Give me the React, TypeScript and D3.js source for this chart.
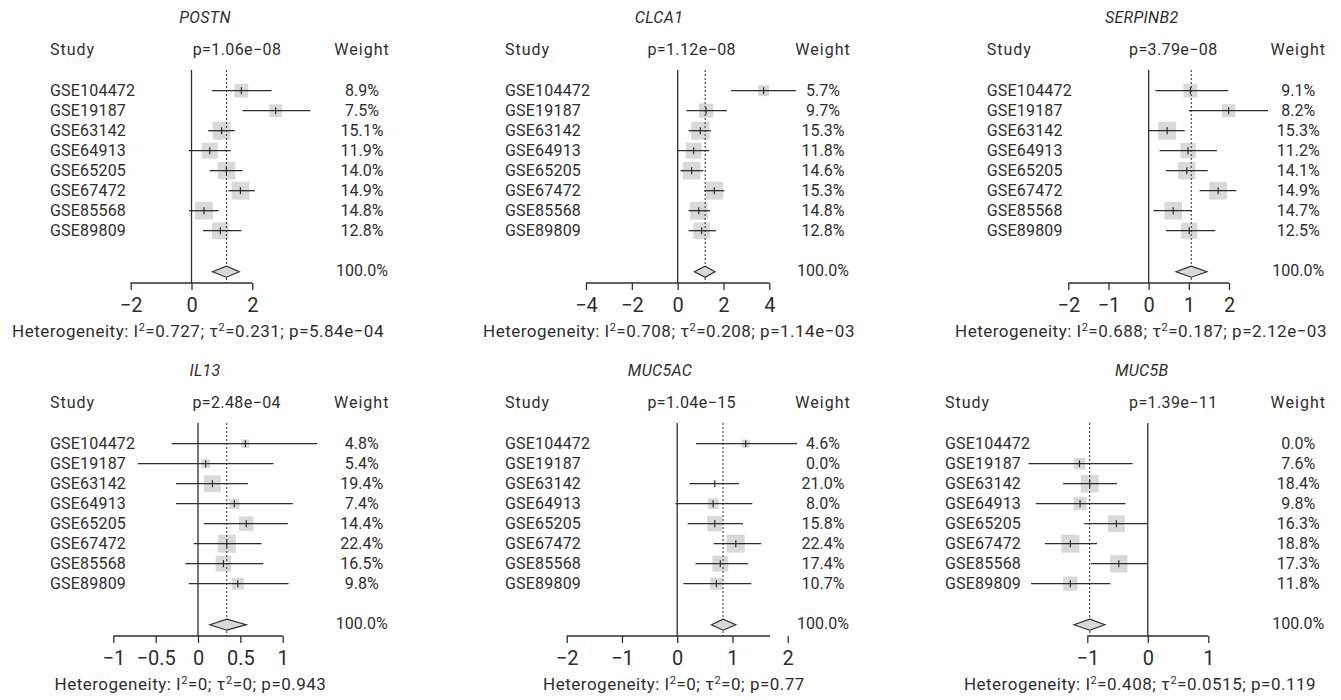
import React, { useRef, useEffect } from 'react';
import * as d3 from 'd3';

const studies = ['GSE104472', 'GSE19187', 'GSE63142', 'GSE64913', 'GSE65205', 'GSE67472', 'GSE85568', 'GSE89809'];
const genes = ['POSTN', 'CLCA1', 'SERPINB2', 'IL13', 'MUC5AC', 'MUC5B'];

// [estimate, lower, upper] for each study, null when the study has no estimate
const postnCI = [[1.64, 0.67, 2.63], [2.77, 1.68, 3.91], [0.99, 0.55, 1.42], [0.60, -0.09, 1.29], [1.15, 0.60, 1.68], [1.61, 1.21, 2.08], [0.41, -0.08, 0.89], [0.95, 0.38, 1.64]];
const clca1CI = [[3.75, 2.33, 5.16], [1.24, 0.39, 2.15], [0.99, 0.48, 1.45], [0.70, 0.0, 1.38], [0.61, 0.12, 1.12], [1.60, 1.16, 2.04], [0.92, 0.48, 1.41], [1.05, 0.48, 1.67]];
const serpinb2CI = [[1.04, 0.17, 1.98], [1.99, 1.0, 2.97], [0.46, 0.0, 0.90], [0.98, 0.27, 1.70], [0.95, 0.43, 1.47], [1.73, 1.27, 2.18], [0.61, 0.12, 1.08], [1.01, 0.43, 1.66]];
const il13CI = [[0.56, -0.31, 1.41], [0.09, -0.71, 0.89], [0.17, -0.26, 0.59], [0.43, -0.26, 1.12], [0.57, 0.07, 1.06], [0.34, -0.05, 0.75], [0.30, -0.15, 0.77], [0.47, -0.11, 1.07]];
const muc5acCI = [[1.24, 0.34, 2.17], null, [0.68, 0.22, 1.12], [0.65, -0.03, 1.36], [0.68, 0.19, 1.19], [1.06, 0.66, 1.52], [0.78, 0.33, 1.28], [0.71, 0.11, 1.34]];
const muc5bCI = [null, [-1.13, -1.97, -0.25], [-0.96, -1.40, -0.51], [-1.12, -1.85, -0.37], [-0.52, -1.05, 0.0], [-1.28, -1.70, -0.84], [-0.48, -0.94, 0.0], [-1.28, -1.93, -0.62]];

const postnWeight = [8.9, 7.5, 15.1, 11.9, 14.0, 14.9, 14.8, 12.8];
const clca1Weight = [5.7, 9.7, 15.3, 11.8, 14.6, 15.3, 14.8, 12.8];
const serpinb2Weight = [9.1, 8.2, 15.3, 11.2, 14.1, 14.9, 14.7, 12.5];
const il13Weight = [4.8, 5.4, 19.4, 7.4, 14.4, 22.4, 16.5, 9.8];
const muc5acWeight = [4.6, 0.0, 21.0, 8.0, 15.8, 22.4, 17.4, 10.7];
const muc5bWeight = [0.0, 7.6, 18.4, 9.8, 16.3, 18.8, 17.3, 11.8];

// random effects summary [estimate, lower, upper]
const summaryCI = [[1.15, 0.69, 1.57], [1.2, 0.73, 1.63], [1.06, 0.68, 1.45], [0.34, 0.14, 0.57], [0.83, 0.62, 1.06], [-0.96, -1.22, -0.71]];
const pValues = ['1.06e\u221208', '1.12e\u221208', '3.79e\u221208', '2.48e\u221204', '1.04e\u221215', '1.39e\u221211'];
const hetI2 = ['0.727', '0.708', '0.688', '0', '0', '0.408'];
const hetTau2 = ['0.231', '0.208', '0.187', '0', '0', '0.0515'];
const hetP = ['5.84e\u221204', '1.14e\u221203', '2.12e\u221203', '0.943', '0.77', '0.119'];

const xDomains = [[-2, 2], [-4, 4], [-2, 2], [-1, 1], [-2, 2], [-1, 1]];
const xTicks = [[-2, 0, 2], [-4, -2, 0, 2, 4], [-2, -1, 0, 1, 2], [-1, -0.5, 0, 0.5, 1], [-2, -1, 0, 1, 2], [-1, 0, 1]];
const axisExtent = [[-2, 2], [-4, 4], [-2, 2], [-1, 1], [-2, 1.68], [-1, 1]];

const studyCI = [postnCI, clca1CI, serpinb2CI, il13CI, muc5acCI, muc5bCI];
const studyWeight = [postnWeight, clca1Weight, serpinb2Weight, il13Weight, muc5acWeight, muc5bWeight];
const hiddenBox = { MUC5AC: ['GSE63142'] };

// panel placement in pixels
const panels = [
  { top: 0, studyX: 50, range: [130.7, 252.3], pX: 237, weightX: 362, titleX: 205, hetX: 198 },
  { top: 0, studyX: 505, range: [586, 769.3], pX: 691.7, weightX: 823, titleX: 659, hetX: 669 },
  { top: 0, studyX: 986.7, range: [1068.3, 1229], pX: 1173.3, weightX: 1298.3, titleX: 1141.7, hetX: 1141 },
  { top: 353, studyX: 50, range: [113.3, 282.7], pX: 236.7, weightX: 361.7, titleX: 205, hetX: 190.5 },
  { top: 353, studyX: 505, range: [566.7, 787.7], pX: 691.7, weightX: 823, titleX: 660, hetX: 674 },
  { top: 353, studyX: 945, range: [1087.3, 1208.3], pX: 1173.3, weightX: 1298.3, titleX: 1141.7, hetX: 1140 },
];

const FONT = 'Roboto, "DejaVu Sans", sans-serif';
const INK = '#2e2e2e';
const BOX = '#d9d9d9';

const ForestGrid = () => {
  const svgRef = useRef(null);

  useEffect(() => {
    if (!svgRef.current) return;
    const svg = d3.select(svgRef.current);
    svg.selectAll('*').remove();

    const titleY = 17.8;
    const headerY = 49.5;
    const lineTop = 70;
    const row0 = 90.7;
    const rowStep = 20;
    const diamondY = 271.7;
    const totalY = 270;
    const axisY = 283;
    const tickLabelY = 305;
    const hetY = 331;

    genes.forEach((gene, gi) => {
      const p = panels[gi];
      const g = svg.append('g').attr('transform', `translate(0,${p.top})`);
      const x = d3.scaleLinear().domain(xDomains[gi]).range(p.range);
      const weights = studyWeight[gi];
      const boxSize = d3.scaleSqrt().domain([0, d3.max(weights)]).range([0, 18]);
      const rowY = (i) => row0 + i * rowStep;
      const [sEst, sLo, sHi] = summaryCI[gi];

      const text = (tx, ty, str, anchor = 'start', size = 16, spacing = 0) =>
        g.append('text')
          .attr('x', tx).attr('y', ty).attr('dy', '0.35em')
          .attr('text-anchor', anchor)
          .attr('font-family', FONT).attr('font-size', size)
          .attr('letter-spacing', spacing)
          .attr('fill', INK)
          .text(str);

      text(p.titleX, titleY, gene, 'middle', 16, 0.3).attr('font-style', 'italic');
      text(p.studyX, headerY, 'Study', 'start', 16, 1);
      text(p.pX, headerY, `p=${pValues[gi]}`, 'middle', 16, 0.4);
      text(p.weightX, headerY, 'Weight', 'middle', 16, 1);

      // squares
      studyCI[gi].forEach((ci, i) => {
        if (!ci) return;
        if ((hiddenBox[gene] || []).includes(studies[i])) return;
        const s = boxSize(weights[i]);
        g.append('rect')
          .attr('x', x(ci[0]) - s / 2).attr('y', rowY(i) - s / 2)
          .attr('width', s).attr('height', s)
          .attr('fill', BOX);
      });

      // no-effect line and summary line
      g.append('line')
        .attr('x1', x(0)).attr('x2', x(0))
        .attr('y1', lineTop).attr('y2', axisY)
        .attr('stroke', INK).attr('stroke-width', 1.3);
      g.append('line')
        .attr('x1', x(sEst)).attr('x2', x(sEst))
        .attr('y1', lineTop).attr('y2', axisY)
        .attr('stroke', INK).attr('stroke-width', 1)
        .attr('stroke-dasharray', '2,2');

      studies.forEach((name, i) => {
        text(p.studyX, rowY(i), name, 'start', 16, 0.2);
        text(p.weightX, rowY(i), `${weights[i].toFixed(1)}%`, 'middle');
        const ci = studyCI[gi][i];
        if (!ci) return;
        g.append('line')
          .attr('x1', x(ci[1])).attr('x2', x(ci[2]))
          .attr('y1', rowY(i)).attr('y2', rowY(i))
          .attr('stroke', INK).attr('stroke-width', 1.3);
        g.append('line')
          .attr('x1', x(ci[0])).attr('x2', x(ci[0]))
          .attr('y1', rowY(i) - 3.5).attr('y2', rowY(i) + 3.5)
          .attr('stroke', INK).attr('stroke-width', 1.2);
      });

      // summary diamond
      g.append('path')
        .attr('d', `M${x(sLo)},${diamondY}L${x(sEst)},${diamondY - 5.5}L${x(sHi)},${diamondY}L${x(sEst)},${diamondY + 5.5}Z`)
        .attr('fill', BOX).attr('stroke', INK).attr('stroke-width', 1.2);
      text(p.weightX, totalY, '100.0%', 'middle');

      // axis
      const axis = g.append('g')
        .attr('transform', `translate(0,${axisY})`)
        .call(
          d3.axisBottom(x)
            .tickValues(xTicks[gi])
            .tickSize(7)
            .tickSizeOuter(0)
            .tickFormat(d3.format('~g'))
        );
      axis.select('.domain').remove();
      axis.selectAll('line').attr('stroke', INK).attr('stroke-width', 1.3);
      axis.selectAll('text')
        .attr('y', tickLabelY - axisY).attr('dy', '0.35em')
        .attr('font-family', FONT).attr('font-size', 20)
        .attr('fill', INK);
      g.append('line')
        .attr('x1', x(axisExtent[gi][0])).attr('x2', x(axisExtent[gi][1]))
        .attr('y1', axisY).attr('y2', axisY)
        .attr('stroke', INK).attr('stroke-width', 1.3);

      // heterogeneity
      const het = text(p.hetX, hetY, null, 'middle', 17, 0.5);
      het.append('tspan').text('Heterogeneity: I');
      het.append('tspan').attr('dy', -6).attr('font-size', 11).text('2');
      het.append('tspan').attr('dy', 6).text(`=${hetI2[gi]}; \u03c4`);
      het.append('tspan').attr('dy', -6).attr('font-size', 11).text('2');
      het.append('tspan').attr('dy', 6).text(`=${hetTau2[gi]}; p=${hetP[gi]}`);
    });
  }, []);

  return (
    <svg
      ref={svgRef}
      width={1341}
      height={700}
      style={{ position: 'absolute', left: 0, top: 0, background: '#fff' }}
    />
  );
};

export default function App() {
  return <ForestGrid />;
}
